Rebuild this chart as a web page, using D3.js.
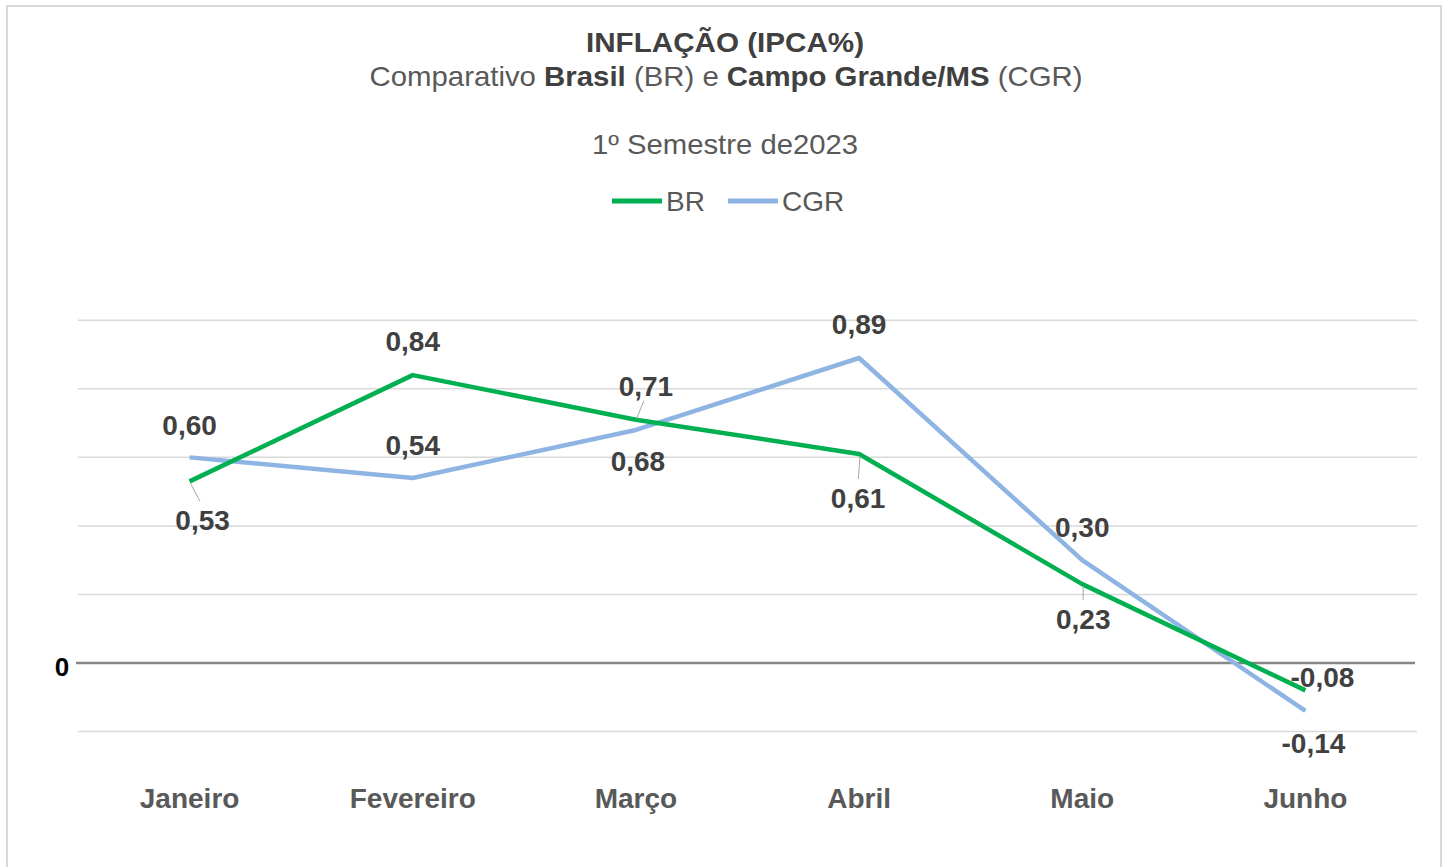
<!DOCTYPE html>
<html>
<head>
<meta charset="utf-8">
<script src="https://cdn.jsdelivr.net/npm/d3@7"></script>
<style>
  body { margin: 0; background: #fff; }
  svg text { font-family: 'Liberation Sans', Arial, sans-serif; }
</style>
</head>
<body>
<div class="canvas"></div>
<script>
const months = ['Janeiro', 'Fevereiro', 'Março', 'Abril', 'Maio', 'Junho']
const br = [0.53, 0.84, 0.71, 0.61, 0.23, -0.08]
const cgr = [0.60, 0.54, 0.68, 0.89, 0.30, -0.14]
const yTicks = [-0.2, 0, 0.2, 0.4, 0.6, 0.8, 1.0]

// label offsets from the point (pixels), and whether a leader line is drawn
const brLabels = [[13, 39, true], [0, -34], [10, -34, true], [-1, 44, true], [1, 35, true], [17, -13]]
const cgrLabels = [[0, -32], [0, -33], [2, 31], [0, -34], [0, -33], [8, 32]]

const width = 1449
const height = 867
const margin = {top: 320, left: 78, right: 32}

const svg = d3.select('.canvas').append('svg')
  .attr('width', width)
  .attr('height', height)

svg.append('rect')
  .attr('x', 7).attr('y', 6)
  .attr('width', 1434).attr('height', 880)
  .attr('fill', '#fff')
  .attr('stroke', '#d9d9d9')
  .attr('stroke-width', 2)

const x = d3.scaleBand()
  .domain(months)
  .range([margin.left, width - margin.right])

const y = d3.scaleLinear()
  .domain([-0.2, 1.0])
  .range([731.5, 320.3])

const xc = m => x(m) + x.bandwidth() / 2

// titles
const title = svg.append('g').attr('text-anchor', 'middle').attr('fill', '#404040')
title.append('text')
  .attr('x', 725).attr('y', 52)
  .attr('font-size', 28).attr('font-weight', 'bold')
  .attr('textLength', 278).attr('lengthAdjust', 'spacingAndGlyphs')
  .text('INFLAÇÃO (IPCA%)')
const sub = title.append('text')
  .attr('x', 726).attr('y', 86)
  .attr('font-size', 28).attr('fill', '#595959')
  .attr('textLength', 713).attr('lengthAdjust', 'spacingAndGlyphs')
;[['Comparativo ', false], ['Brasil', true], [' (BR) e ', false], ['Campo Grande/MS', true], [' (CGR)', false]]
  .forEach(([t, b]) => sub.append('tspan')
    .attr('font-weight', b ? 'bold' : 'normal')
    .attr('fill', b ? '#404040' : '#595959')
    .text(t))
title.append('text')
  .attr('x', 725).attr('y', 154)
  .attr('font-size', 28).attr('fill', '#595959')
  .attr('textLength', 266).attr('lengthAdjust', 'spacingAndGlyphs')
  .text('1º Semestre de2023')

// legend
const legend = svg.append('g')
;[['BR', '#00b050', 612], ['CGR', '#8eb4e3', 728]].forEach(([name, color, lx]) => {
  legend.append('line')
    .attr('x1', lx).attr('x2', lx + 50)
    .attr('y1', 201).attr('y2', 201)
    .attr('stroke', color).attr('stroke-width', 5)
  legend.append('text')
    .attr('x', lx + 54).attr('y', 211)
    .attr('font-size', 28).attr('fill', '#595959')
    .text(name)
})

// grid
svg.append('g').selectAll('line')
  .data(yTicks.filter(t => t !== 0))
  .join('line')
  .attr('x1', margin.left).attr('x2', width - margin.right)
  .attr('y1', d => y(d)).attr('y2', d => y(d))
  .attr('stroke', '#d9d9d9').attr('stroke-width', 1.5)

svg.append('line')
  .attr('x1', 76).attr('x2', 1415)
  .attr('y1', y(0)).attr('y2', y(0))
  .attr('stroke', '#868686').attr('stroke-width', 2.5)

svg.append('text')
  .attr('x', 62).attr('y', y(0) + 4)
  .attr('dy', '0.35em')
  .attr('text-anchor', 'middle')
  .attr('font-size', 26).attr('font-weight', 'bold')
  .attr('fill', '#000')
  .text('0')

// x axis labels
const xAxis = svg.append('g')
  .attr('transform', `translate(0, 788)`)
  .call(d3.axisBottom(x).tickSize(0).tickPadding(0))
xAxis.select('.domain').remove()
xAxis.selectAll('text')
  .attr('font-size', 28)
  .attr('font-weight', 'bold')
  .attr('fill', '#595959')
  .attr('font-family', "'Liberation Sans', Arial, sans-serif")

// lines
const line = d3.line()
  .x((d, i) => xc(months[i]))
  .y(d => y(d))

const series = [
  {name: 'BR', values: br, color: '#00b050', labels: brLabels},
  {name: 'CGR', values: cgr, color: '#8eb4e3', labels: cgrLabels}
]

series.slice().reverse().forEach(s => {
  svg.append('path')
    .datum(s.values)
    .attr('fill', 'none')
    .attr('stroke', s.color)
    .attr('stroke-width', 4.5)
    .attr('stroke-linejoin', 'round')
    .attr('d', line)
})

const fmt = v => d3.format('.2f')(v).replace('.', ',').replace('−', '-')

series.forEach(s => {
  const g = svg.append('g')
  s.values.forEach((v, i) => {
    const px = xc(months[i])
    const py = y(v)
    const [dx, dy, leader] = s.labels[i]
    if (leader) {
      const lx = px + dx * 0.8
      const ly = py + (dy > 0 ? dy - 19 : dy + 15)
      g.append('line')
        .attr('x1', px + 1).attr('y1', py + (dy > 0 ? 2 : -2))
        .attr('x2', lx).attr('y2', ly)
        .attr('stroke', '#a6a6a6').attr('stroke-width', 1)
    }
    g.append('text')
      .attr('x', px + dx).attr('y', py + dy)
      .attr('dy', '0.36em')
      .attr('text-anchor', 'middle')
      .attr('font-size', 28).attr('font-weight', 'bold')
      .attr('fill', '#404040')
      .text(fmt(v))
  })
})
</script>
</body>
</html>
